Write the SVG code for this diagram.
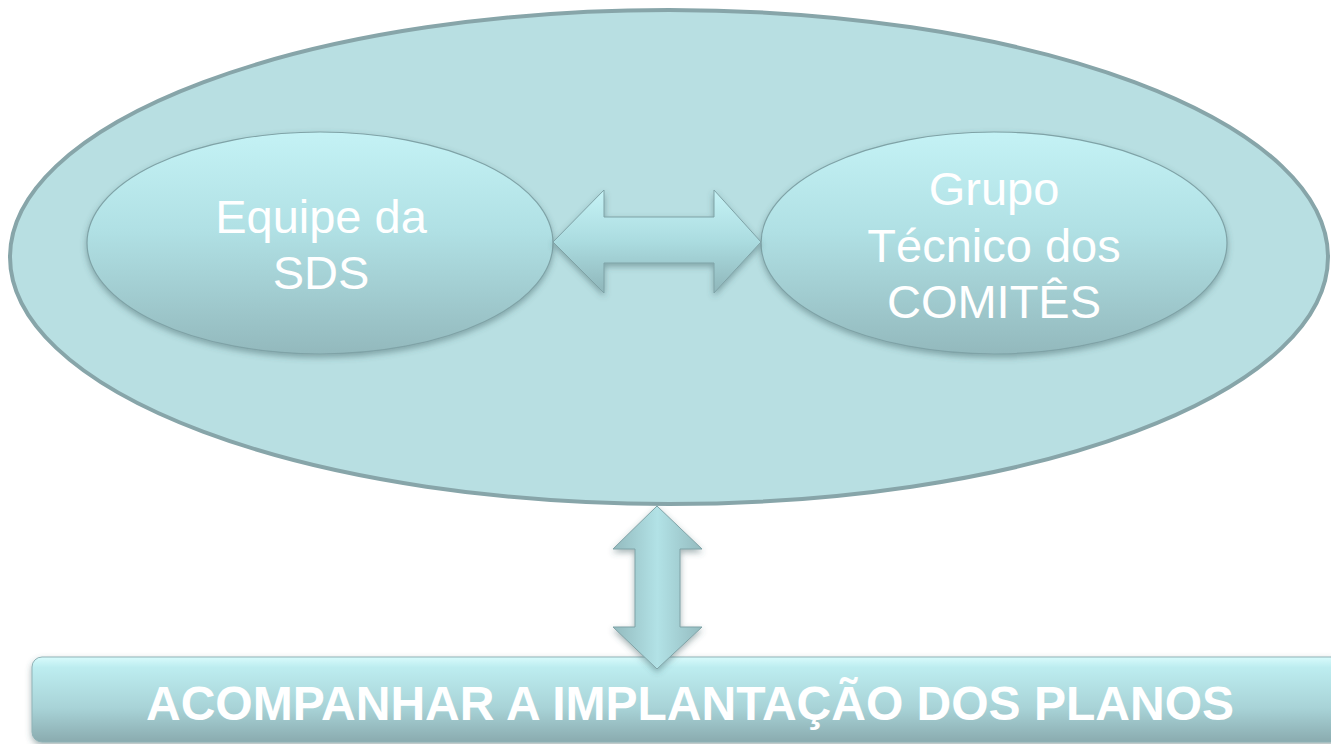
<svg xmlns="http://www.w3.org/2000/svg" width="1331" height="744" viewBox="0 0 1331 744">
  <defs>
    <linearGradient id="gBevel" x1="0" y1="0" x2="0" y2="1">
      <stop offset="0" stop-color="#C4F2F5"/>
      <stop offset="0.45" stop-color="#B0E0E4"/>
      <stop offset="1" stop-color="#93B9BD"/>
    </linearGradient>
    <linearGradient id="gBar" x1="0" y1="0" x2="0" y2="1">
      <stop offset="0" stop-color="#D8FBFC"/>
      <stop offset="0.12" stop-color="#BDEDF0"/>
      <stop offset="0.6" stop-color="#A8D3D7"/>
      <stop offset="1" stop-color="#8AABAF"/>
    </linearGradient>
    <linearGradient id="gArrowH" x1="0" y1="0" x2="0" y2="1">
      <stop offset="0" stop-color="#C6F3F6"/>
      <stop offset="0.5" stop-color="#ABDCE0"/>
      <stop offset="1" stop-color="#8FB6BA"/>
    </linearGradient>
    <linearGradient id="gArrowV" x1="0" y1="0" x2="1" y2="0">
      <stop offset="0" stop-color="#93BABE"/>
      <stop offset="0.5" stop-color="#B2E2E6"/>
      <stop offset="1" stop-color="#94BBBF"/>
    </linearGradient>
    <filter id="shadow" x="-10%" y="-10%" width="120%" height="130%">
      <feDropShadow dx="0" dy="3" stdDeviation="3" flood-color="#3E5B5E" flood-opacity="0.45"/>
    </filter>
  </defs>
  <style>
    .outer { fill: #B8DFE2; stroke: #87A5A9; stroke-width: 4; }
    .inner { fill: url(#gBevel); stroke: #7FA3A7; stroke-width: 1.2; filter: url(#shadow); }
    .label { font-family: "Liberation Sans", Arial, sans-serif; fill: #FFFFFF; text-anchor: middle; }
    .node-text { font-size: 47px; }
    .bar-text { font-size: 48px; font-weight: bold; }
    .arrow { stroke: #7FA3A7; stroke-width: 1; filter: url(#shadow); }
  </style>

  <g id="node-outer">
    <ellipse class="outer" cx="669" cy="257" rx="659" ry="247"/>
  </g>

  <g id="node-sds">
    <ellipse class="inner" cx="320" cy="243" rx="233" ry="111"/>
    <text class="label node-text" x="321" y="233">Equipe da</text>
    <text class="label node-text" x="321" y="289">SDS</text>
  </g>

  <g id="node-grupo">
    <ellipse class="inner" cx="994" cy="243" rx="233" ry="111"/>
    <text class="label node-text" x="994" y="205">Grupo</text>
    <text class="label node-text" x="994" y="262">Técnico dos</text>
    <text class="label node-text" x="994" y="318">COMITÊS</text>
  </g>

  <g id="node-acompanhar">
    <rect x="32" y="657" width="1310" height="85" rx="10" ry="10" fill="url(#gBar)" stroke="#8FB3B7" stroke-width="1" filter="url(#shadow)"/>
    <text class="label bar-text" x="690" y="720">ACOMPANHAR A IMPLANTAÇÃO DOS PLANOS</text>
  </g>

  <g id="connectors">
    <path class="arrow" fill="url(#gArrowH)" d="M553,242 L604,190 L604,217 L714,217 L714,190 L761,242 L714,293 L714,263 L604,263 L604,293 Z"/>
    <path class="arrow" fill="url(#gArrowV)" d="M657,506 L702,549 L680,549 L680,627 L702,627 L657,669 L613,627 L635,627 L635,549 L613,549 Z"/>
  </g>
</svg>
